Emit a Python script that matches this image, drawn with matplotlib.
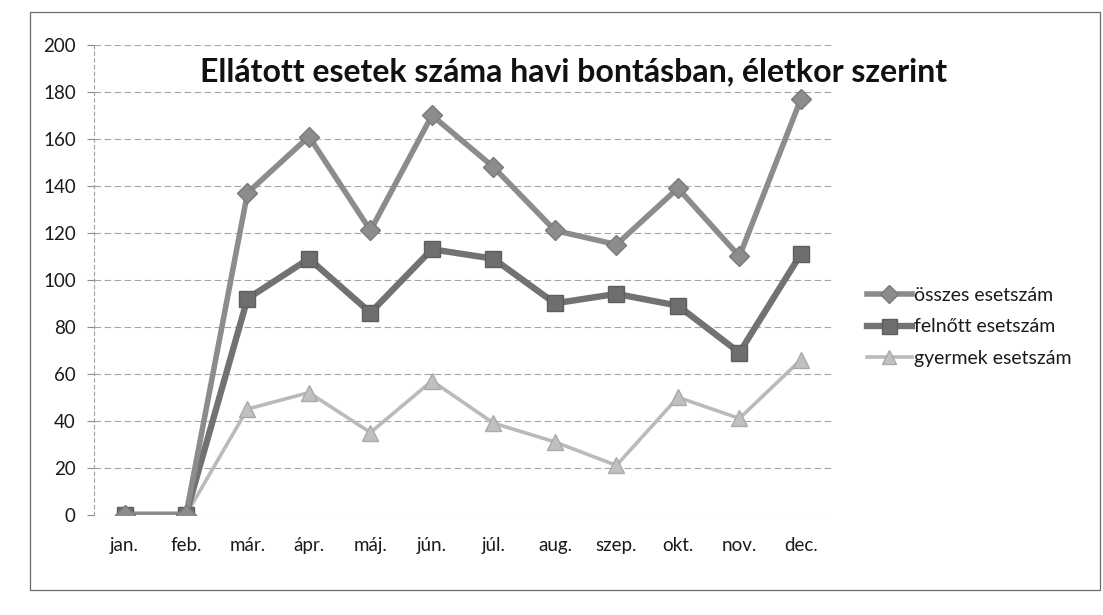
import matplotlib.pyplot as plt
from matplotlib.patches import Rectangle

# months on the category axis
months = ['jan.', 'feb.', 'már.', 'ápr.', 'máj.', 'jún.', 'júl.',
          'aug.', 'szep.', 'okt.', 'nov.', 'dec.']

# series values
osszes = [0, 0, 137, 161, 121, 170, 148, 121, 115, 139, 110, 177]
felnott = [0, 0, 92, 109, 86, 113, 109, 90, 94, 89, 69, 111]
gyermek = [0, 0, 45, 52, 35, 57, 39, 31, 21, 50, 41, 66]

series_names = ['összes esetszám', 'felnőtt esetszám', 'gyermek esetszám']
y_ticks = list(range(0, 201, 20))

plt.rcParams['font.family'] = ['Lato', 'DejaVu Sans']

fig = plt.figure(figsize=(11.03, 6.15), dpi=100)
ax = fig.add_axes([0.085, 0.163, 0.669, 0.764])

x = range(len(months))
l1, = ax.plot(x, osszes, color='#8c8c8c', lw=4.0, marker='D', ms=10,
              mec='#7a7a7a', mfc='#8c8c8c', zorder=4)
l2, = ax.plot(x, felnott, color='#727272', lw=4.6, marker='s', ms=12,
              mec='#5e5e5e', mfc='#6e6e6e', zorder=3)
l3, = ax.plot(x, gyermek, color='#bababa', lw=2.6, marker='^', ms=11,
              mec='#aaaaaa', mfc='#c0c0c0', zorder=2)

ax.set_xlim(-0.5, len(months) - 0.5)
ax.set_ylim(0, 200)
ax.set_yticks(y_ticks)
ax.set_xticks(list(x))
ax.set_xticklabels(months)
ax.tick_params(axis='x', length=0, pad=16, labelsize=13.5, colors='#1a1a1a')
ax.tick_params(axis='y', length=5, width=0.8, color='#8a8a8a', pad=8,
               labelsize=13.5, labelcolor='#1a1a1a')
ax.yaxis.grid(True, color='#a5a5a5', lw=0.8, ls=(0, (6, 3)))
ax.set_axisbelow(True)
for side in ['top', 'right', 'bottom']:
    ax.spines[side].set_visible(False)
ax.spines['left'].set_color('#a0a0a0')
ax.spines['left'].set_linestyle((0, (3, 3)))
ax.spines['left'].set_linewidth(0.8)

fig.text(0.52, 0.884, 'Ellátott esetek száma havi bontásban, életkor szerint',
         ha='center', va='center', fontsize=23, fontweight='bold', color='#111111')

fig.legend([l1, l2, l3], series_names, loc='upper left',
           bbox_to_anchor=(0.77, 0.562), frameon=False, fontsize=14,
           handlelength=2.3, handletextpad=0.15, labelspacing=0.75,
           labelcolor='#1a1a1a', markerscale=0.9)

# outer chart border from the scan
fig.patches.append(Rectangle((0.027, 0.04), 0.97, 0.94, transform=fig.transFigure,
                             fill=False, ec='#6a6a6a', lw=0.9))

fig.savefig('out.png', dpi=100)
